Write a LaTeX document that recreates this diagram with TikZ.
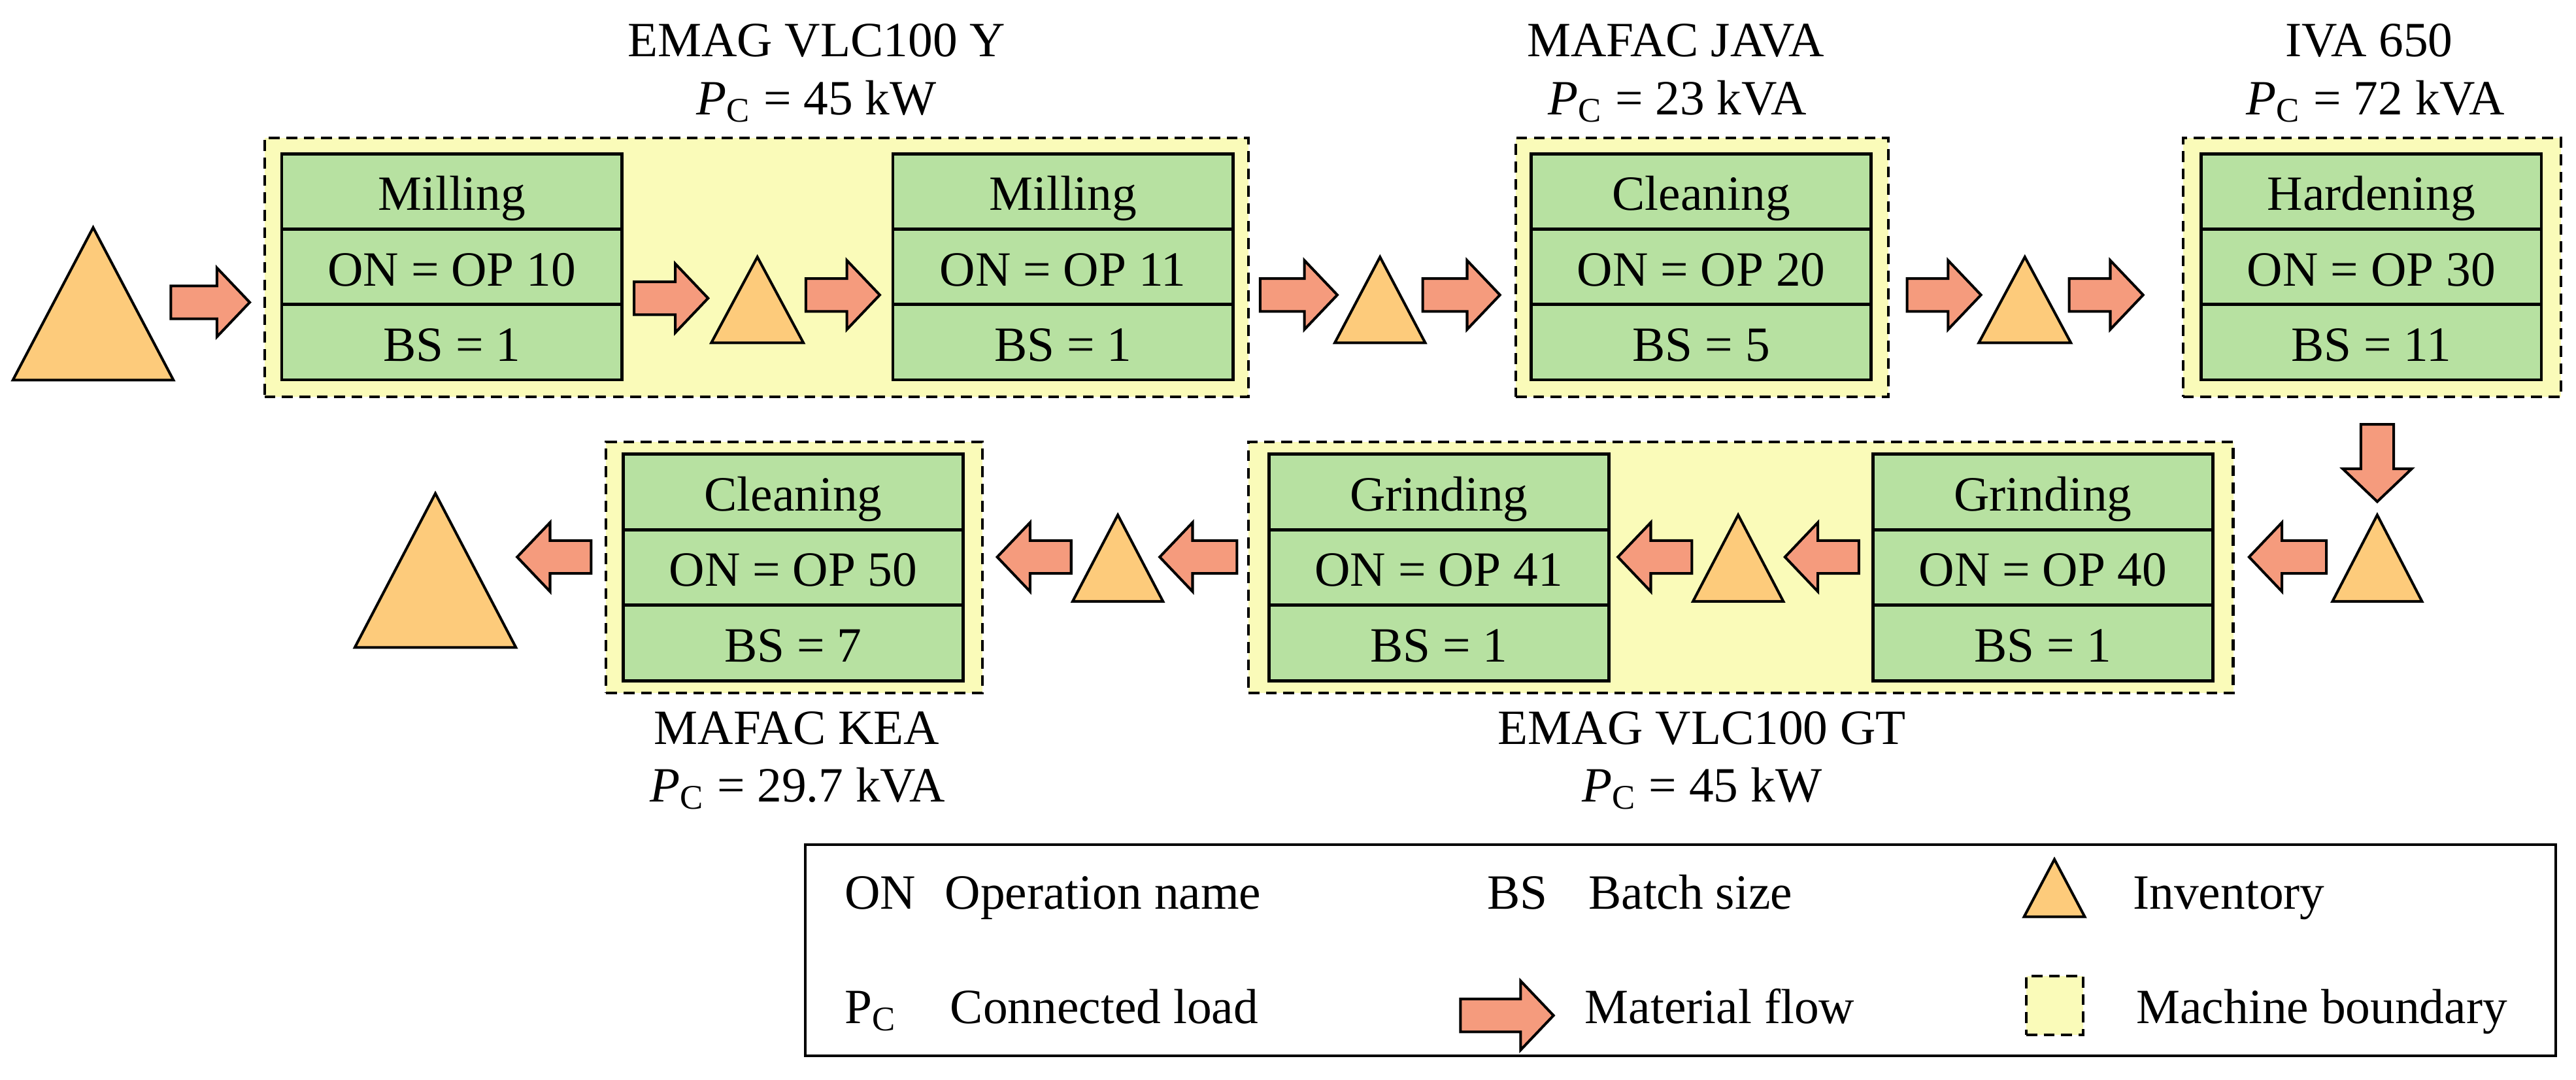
\documentclass[tikz,border=0pt]{standalone}
\usepackage{fontspec}
\setmainfont{Liberation Serif}
\usetikzlibrary{calc}
\definecolor{gfill}{HTML}{B7E1A1}
\definecolor{yfill}{HTML}{FAFBB9}
\definecolor{afill}{HTML}{F59B7D}
\definecolor{tfill}{HTML}{FDCB7B}
\begin{document}
\begin{tikzpicture}[x=0.5pt,y=-0.5pt,
  every node/.style={font=\fontsize{15}{18}\selectfont},
  mbox/.style={draw=black, fill=yfill, line width=0.8pt, dash pattern=on 3.3pt off 2pt, inner sep=0pt},
  cell/.style={draw=black, fill=gfill, line width=0.95pt, minimum width=103.5pt, inner sep=0pt, text height=14pt, text depth=2.5pt},
  cellT/.style={cell, minimum height=22.9pt},
  cellB/.style={cell, minimum height=23pt},
  lbl/.style={anchor=base, inner sep=0pt},
  leg/.style={anchor=base west, inner sep=0pt},
  flowstyle/.style={draw=black, fill=afill, line width=0.8pt, line join=miter},
  invstyle/.style={draw=black, fill=tfill, line width=0.8pt, line join=miter},
  pics/flowR/.style={code={\draw[flowstyle] (-#1,-10) -- (#1-20,-10) -- (#1-20,-21) -- (#1,0) -- (#1-20,21) -- (#1-20,10) -- (-#1,10) -- cycle;}},
  pics/flowL/.style={code={\draw[flowstyle] (#1,-10) -- (-#1+20,-10) -- (-#1+20,-21) -- (-#1,0) -- (-#1+20,21) -- (-#1+20,10) -- (#1,10) -- cycle;}},
  pics/flowD/.style={code={\draw[flowstyle] (-10,-#1) -- (-10,#1-20) -- (-21,#1-20) -- (0,#1) -- (21,#1-20) -- (10,#1-20) -- (10,-#1) -- cycle;}},
  pics/inv/.style 2 args={code={\draw[invstyle] (-#1/2,0) -- (#1/2,0) -- (0,-#2) -- cycle;}}
]
\useasboundingbox (0,0) rectangle (1568,656.9);

% ---------- machine boundaries ----------
\node[mbox, minimum width=299.5pt, minimum height=78.75pt] (D1) at (460.5,162.75) {};
\node[mbox, minimum width=113.4pt, minimum height=78.75pt] (D2) at (1036.1,162.75) {};
\node[mbox, minimum width=115pt, minimum height=78.75pt] (D3) at (1443.7,162.75) {};
\node[mbox, minimum width=299.65pt, minimum height=76.5pt] (D4) at (1059.65,345.4) {};
\node[mbox, minimum width=114.4pt, minimum height=76.5pt] (D5) at (483.4,345.4) {};

% ---------- machine titles ----------
\node[lbl] (t1a) at (497,34.6) {EMAG VLC100 Y};
\node[lbl] (t1b) at (497,70) {\textit{P}\textsubscript{C} = 45 kW};
\node[lbl] (t2a) at (1020,34.6) {MAFAC JAVA};
\node[lbl] (t2b) at (1021,70) {\textit{P}\textsubscript{C} = 23 kVA};
\node[lbl] (t3a) at (1442,34.6) {IVA 650};
\node[lbl] (t3b) at (1446,70) {\textit{P}\textsubscript{C} = 72 kVA};
\node[lbl] (t4a) at (1036,452.8) {EMAG VLC100 GT};
\node[lbl] (t4b) at (1036,488) {\textit{P}\textsubscript{C} = 45 kW};
\node[lbl] (t5a) at (485,452.8) {MAFAC KEA};
\node[lbl] (t5b) at (485.5,488) {\textit{P}\textsubscript{C} = 29.7 kVA};

% ---------- process boxes, top row ----------
\node[cellT] (g1a) at (275,116.6) {Milling};
\node[cellT] (g1b) at (275,162.45) {ON = OP 10};
\node[cellT] (g1c) at (275,208.3) {BS = 1};
\node[cellT] (g2a) at (647,116.6) {Milling};
\node[cellT] (g2b) at (647,162.45) {ON = OP 11};
\node[cellT] (g2c) at (647,208.3) {BS = 1};
\node[cellT] (g3a) at (1035.5,116.6) {Cleaning};
\node[cellT] (g3b) at (1035.5,162.45) {ON = OP 20};
\node[cellT] (g3c) at (1035.5,208.3) {BS = 5};
\node[cellT] (g4a) at (1443.4,116.6) {Hardening};
\node[cellT] (g4b) at (1443.4,162.45) {ON = OP 30};
\node[cellT] (g4c) at (1443.4,208.3) {BS = 11};

% ---------- process boxes, bottom row ----------
\node[cellB] (g7a) at (1243.5,299.3) {Grinding};
\node[cellB] (g7b) at (1243.5,345.35) {ON = OP 40};
\node[cellB] (g7c) at (1243.5,391.4) {BS = 1};
\node[cellB] (g6a) at (875.8,299.3) {Grinding};
\node[cellB] (g6b) at (875.8,345.35) {ON = OP 41};
\node[cellB] (g6c) at (875.8,391.4) {BS = 1};
\node[cellB] (g5a) at (482.8,299.3) {Cleaning};
\node[cellB] (g5b) at (482.8,345.35) {ON = OP 50};
\node[cellB] (g5c) at (482.8,391.4) {BS = 7};

% ---------- inventories ----------
\pic (i0) at (56.7,231.3) {inv={97.7}{92.8}};
\pic (i1) at (461,208.6) {inv={56}{52.2}};
\pic (i2) at (840,208.6) {inv={55}{52.2}};
\pic (i3) at (1232.5,208.6) {inv={56}{52.2}};
\pic (i4) at (1447,366) {inv={54.5}{52.6}};
\pic (i5) at (1058,366) {inv={55}{52.6}};
\pic (i6) at (680.4,366) {inv={55}{52.6}};
\pic (i7) at (265,394) {inv={98}{93.7}};

% ---------- material flow ----------
\pic (a1) at (128,184) {flowR=24};
\pic (a2) at (408.5,181.5) {flowR=22.5};
\pic (a3) at (513,179.5) {flowR=22.5};
\pic (a4) at (790.5,179.5) {flowR=23.5};
\pic (a5) at (889.5,179.5) {flowR=23.5};
\pic (a6) at (1183.3,179.5) {flowR=22.5};
\pic (a7) at (1282,179.5) {flowR=22.5};
\pic (a8) at (1447,281.8) {flowD=23.5};
\pic (a9) at (1392.5,339) {flowL=23.5};
\pic (a10) at (1109,339) {flowL=22.5};
\pic (a11) at (1007.3,339) {flowL=22.5};
\pic (a12) at (729.4,339) {flowL=23.5};
\pic (a13) at (629.5,339) {flowL=22.5};
\pic (a14) at (337.3,339) {flowL=22.5};

% ---------- legend ----------
\node[draw=black, line width=0.8pt, minimum width=532.75pt, minimum height=64.2pt, inner sep=0pt] (L) at (1022.75,578.2) {};
\node[leg] (l1) at (513.7,553.4) {ON};
\node[leg] (l2) at (574.8,553.4) {Operation name};
\node[leg] (l3) at (905,553.4) {BS};
\node[leg] (l4) at (966.5,553.4) {Batch size};
\pic (li) at (1250.5,558) {inv={37}{35}};
\node[leg] (l5) at (1298,553.4) {Inventory};
\node[leg] (l6) at (513.7,623) {P\textsubscript{C}};
\node[leg] (l7) at (578,623) {Connected load};
\pic (la) at (917.3,618) {flowR=28.3};
\node[leg] (l8) at (964.3,623) {Material flow};
\node[mbox, minimum width=17.3pt, minimum height=18pt] (lb) at (1250.7,612) {};
\node[leg] (l9) at (1300,623) {Machine boundary};
\end{tikzpicture}
\end{document}
